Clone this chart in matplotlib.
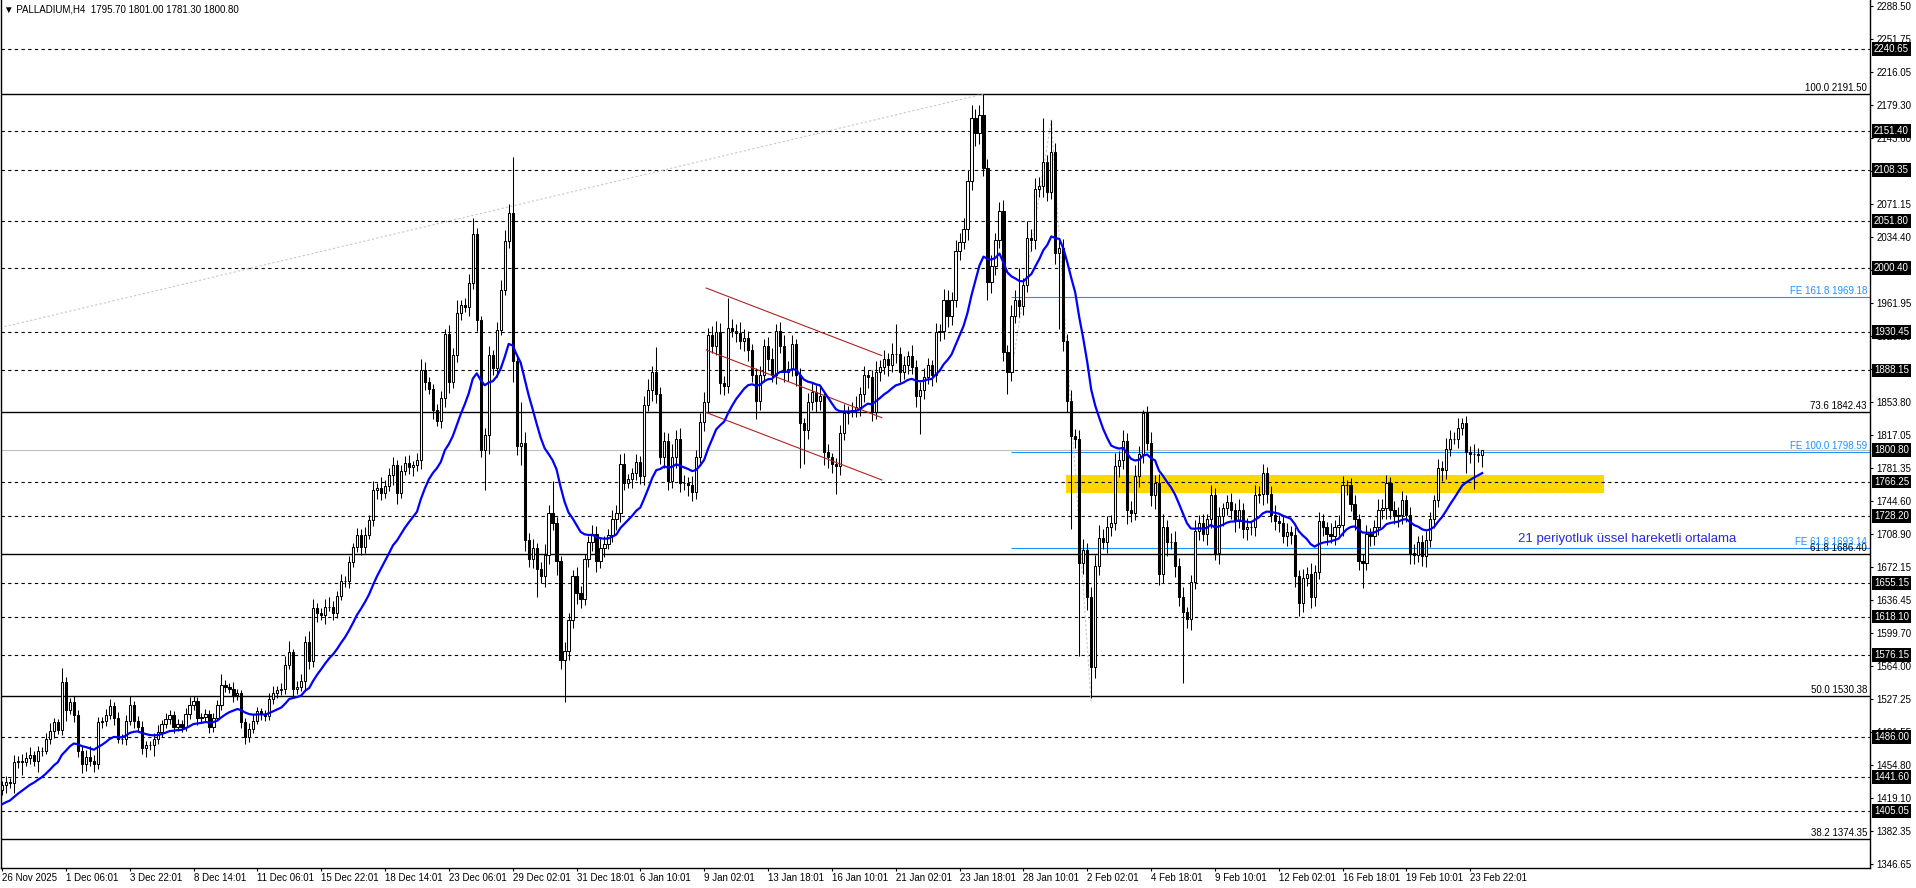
import numpy as np
import matplotlib
matplotlib.use("Agg")
import matplotlib.pyplot as plt

plt.rcParams['font.family'] = ['Liberation Sans', 'DejaVu Sans']

# H4 closes (26 Nov 2025 -> 24 Feb 2026)
closes = [
    1433, 1437, 1435, 1458, 1460, 1459, 1463, 1466, 1460, 1470,
    1471, 1484, 1493, 1502, 1494, 1546, 1516, 1524, 1510, 1470,
    1456, 1464, 1460, 1456, 1502, 1503, 1510, 1520, 1507, 1484,
    1484, 1504, 1521, 1504, 1497, 1474, 1477, 1477, 1484, 1491,
    1500, 1506, 1510, 1497, 1500, 1497, 1511, 1521, 1525, 1507,
    1508, 1511, 1497, 1507, 1521, 1543, 1541, 1539, 1532, 1534,
    1502, 1486, 1495, 1504, 1514, 1511, 1509, 1528, 1534, 1537,
    1539, 1565, 1579, 1539, 1541, 1547, 1590, 1569, 1627, 1622,
    1620, 1629, 1629, 1622, 1641, 1657, 1657, 1678, 1694, 1708,
    1694, 1708, 1724, 1757, 1759, 1754, 1761, 1773, 1784, 1754,
    1778, 1787, 1782, 1784, 1790, 1889, 1875, 1868, 1845, 1833,
    1858, 1928, 1875, 1905, 1951, 1960, 1958, 1984, 2038, 1944,
    1801, 1817, 1905, 1891, 1933, 1977, 2030, 2061, 1898, 1805,
    1809, 1702, 1681, 1693, 1670, 1663, 1686, 1732, 1721, 1679,
    1570, 1580, 1614, 1663, 1644, 1637, 1681, 1700, 1709, 1679,
    1693, 1698, 1708, 1725, 1732, 1786, 1765, 1769, 1776, 1788,
    1772, 1850, 1867, 1887, 1862, 1793, 1811, 1767, 1793, 1813,
    1765, 1765, 1762, 1755, 1793, 1832, 1853, 1927, 1915, 1930,
    1874, 1871, 1935, 1931, 1929, 1920, 1924, 1911, 1883, 1855,
    1883, 1915, 1901, 1883, 1931, 1915, 1887, 1890, 1917, 1883,
    1830, 1823, 1853, 1864, 1855, 1860, 1799, 1793, 1786, 1783,
    1820, 1841, 1843, 1845, 1848, 1862, 1883, 1881, 1843, 1887,
    1892, 1901, 1894, 1906, 1906, 1887, 1894, 1904, 1892, 1860,
    1867, 1881, 1894, 1883, 1930, 1931, 1966, 1948, 1966, 2019,
    2029, 2043, 2096, 2165, 2149, 2168, 2110, 1985, 2003, 2031,
    2063, 1908, 1887, 1948, 1966, 1959, 1982, 2033, 2031, 2087,
    2091, 2117, 2084, 2128, 2017, 2022, 1920, 1855, 1816, 1813,
    1677, 1691, 1640, 1563, 1674, 1704, 1700, 1716, 1721, 1783,
    1790, 1811, 1735, 1732, 1772, 1797, 1841, 1809, 1751, 1765,
    1665, 1716, 1700, 1700, 1674, 1640, 1623, 1615, 1656, 1712,
    1721, 1709, 1725, 1751, 1688, 1728, 1737, 1744, 1735, 1723,
    1735, 1714, 1716, 1716, 1751, 1753, 1776, 1753, 1730, 1723,
    1721, 1707, 1711, 1708, 1663, 1633, 1660, 1665, 1640, 1667,
    1723, 1716, 1709, 1707, 1716, 1719, 1762, 1762, 1742, 1725,
    1679, 1677, 1709, 1707, 1716, 1735, 1737, 1765, 1735, 1728,
    1730, 1746, 1730, 1688, 1686, 1700, 1684, 1702, 1725, 1746,
    1781, 1779, 1802, 1813, 1813, 1825, 1830, 1799, 1797, 1797,
    1795.7, 1800.8,
]
# wick lengths above / below each body
upper_wick = [
    5, 6, 4, 8, 5, 7, 6, 9, 5, 6,  4, 6, 8, 5, 4, 16, 6, 5, 7, 5,
    6, 8, 12, 6, 6, 5, 7, 8, 4, 6,  5, 6, 10, 4, 5, 6, 4, 5, 6, 8,
    5, 6, 5, 4, 6, 5, 7, 9, 6, 5,  4, 6, 5, 5, 6, 12, 6, 4, 7, 5,
    4, 5, 6, 7, 5, 4, 5, 6, 8, 5,  6, 10, 12, 4, 6, 8, 7, 12, 10, 6,
    5, 8, 10, 6, 5, 8, 6, 6, 5, 7,  6, 8, 5, 10, 6, 12, 7, 8, 9, 6,
    6, 7, 8, 5, 8, 12, 8, 6, 5, 6,  8, 6, 10, 8, 14, 6, 8, 10, 17, 6,
    4, 8, 10, 6, 8, 10, 12, 10, 61, 8,  44, 12, 8, 10, 6, 8, 12, 8, 35, 6,
    6, 10, 8, 6, 10, 8, 6, 6, 10, 8,  12, 8, 6, 10, 8, 10, 12, 6, 5, 8,
    6, 10, 12, 6, 27, 8, 10, 8, 15, 10,  12, 8, 6, 10, 8, 10, 12, 8, 10, 12,
    10, 8, 33, 10, 8, 12, 10, 8, 6, 8,  10, 8, 10, 12, 8, 10, 12, 8, 10, 6,
    8, 6, 10, 12, 8, 10, 6, 8, 5, 6,  8, 10, 6, 8, 12, 8, 10, 6, 8, 12,
    8, 10, 6, 12, 33, 8, 10, 6, 12, 8,  8, 10, 8, 6, 10, 8, 12, 10, 8, 12,
    10, 12, 12, 15, 10, 12, 24, 10, 12, 8,  10, 12, 8, 12, 10, 35, 8, 19, 10, 12,
    10, 48, 8, 35, 10, 8, 10, 8, 12, 8,  10, 12, 8, 10, 12, 15, 10, 12, 8, 15,
    10, 12, 8, 10, 12, 8, 4, 8, 12, 8,  10, 15, 8, 10, 12, 8, 10, 6, 8, 12,
    8, 10, 6, 12, 8, 10, 6, 8, 10, 8,  12, 8, 10, 6, 12, 8, 10, 6, 8, 10,
    6, 8, 10, 6, 8, 6, 10, 8, 12, 8,  10, 8, 6, 12, 8, 10, 10, 6, 8, 10,
    6, 8, 10, 6, 8, 12, 10, 8, 6, 10,  8, 10, 6, 8, 10, 6, 8, 10, 8, 6,
    10, 8, 12, 10, 8, 11, 6, 8, 6, 10,  6, 0,
]
lower_wick = [
    6, 8, 5, 10, 6, 15, 5, 7, 6, 12,  5, 4, 6, 8, 5, 6, 12, 5, 8, 6,
    10, 7, 6, 8, 5, 6, 5, 4, 8, 5,  6, 7, 5, 8, 6, 7, 10, 5, 12, 6,
    5, 4, 6, 7, 5, 6, 4, 5, 6, 8,  6, 5, 7, 6, 4, 5, 6, 5, 8, 6,
    6, 8, 6, 5, 4, 6, 5, 4, 6, 5,  5, 6, 5, 8, 6, 5, 10, 8, 6, 10,
    6, 10, 5, 8, 6, 5, 6, 8, 6, 5,  8, 6, 5, 6, 10, 8, 6, 5, 10, 12,
    6, 5, 8, 10, 6, 10, 8, 6, 10, 6,  8, 10, 12, 6, 8, 7, 6, 10, 6, 12,
    8, 44, 20, 8, 10, 6, 6, 8, 23, 10,  21, 12, 8, 10, 30, 8, 12, 10, 8, 15,
    10, 46, 10, 8, 12, 10, 6, 8, 10, 12,  8, 10, 6, 8, 12, 10, 8, 6, 10, 8,
    8, 10, 6, 12, 10, 8, 12, 10, 8, 12,  10, 8, 12, 10, 8, 6, 10, 12, 8, 10,
    12, 10, 8, 6, 10, 8, 10, 12, 8, 20,  10, 8, 12, 8, 10, 8, 12, 10, 8, 12,
    49, 37, 10, 8, 12, 10, 15, 12, 10, 30,  10, 8, 12, 6, 8, 10, 8, 12, 10, 8,
    10, 8, 12, 8, 10, 12, 8, 10, 8, 12,  42, 10, 8, 12, 8, 10, 8, 12, 10, 8,
    10, 8, 12, 10, 15, 12, 8, 20, 12, 10,  8, 10, 25, 10, 8, 12, 10, 8, 12, 10,
    8, 12, 10, 8, 12, 83, 10, 12, 102, 10,  102, 12, 15, 34, 12, 10, 8, 12, 10, 8,
    12, 10, 15, 10, 8, 12, 10, 8, 12, 15,  12, 10, 15, 8, 12, 10, 78, 10, 12, 8,
    10, 8, 12, 10, 8, 12, 10, 8, 10, 12,  8, 10, 12, 8, 10, 8, 12, 10, 8, 10,
    10, 8, 12, 10, 12, 14, 10, 8, 12, 10,  8, 10, 12, 8, 10, 8, 12, 10, 8, 12,
    10, 28, 8, 12, 10, 8, 10, 12, 10, 8,  12, 10, 8, 12, 10, 8, 10, 12, 8, 10,
    8, 12, 10, 8, 6, 10, 8, 23, 10, 39,  8, 14,
]
first_open = 1428
ema_start = 1410
ema_period = 21

date_labels = ["26 Nov 2025", "1 Dec 06:01", "3 Dec 22:01", "8 Dec 14:01", "11 Dec 06:01",
               "15 Dec 22:01", "18 Dec 14:01", "23 Dec 06:01", "29 Dec 02:01", "31 Dec 18:01",
               "6 Jan 10:01", "9 Jan 02:01", "13 Jan 18:01", "16 Jan 10:01", "21 Jan 02:01",
               "23 Jan 18:01", "28 Jan 10:01", "2 Feb 02:01", "4 Feb 18:01", "9 Feb 10:01",
               "12 Feb 02:01", "16 Feb 18:01", "19 Feb 10:01", "23 Feb 22:01"]
bars_per_label = 16

price_ticks = [2288.50, 2251.75, 2216.05, 2179.30, 2143.60, 2106.85, 2071.15, 2034.40,
               1998.70, 1961.95, 1926.25, 1889.50, 1853.80, 1817.05, 1781.35, 1744.60,
               1708.90, 1672.15, 1636.45, 1599.70, 1564.00, 1527.25, 1491.55, 1454.80,
               1419.10, 1382.35, 1346.65]
dashed_levels = [2240.65, 2151.40, 2108.35, 2051.80, 2000.40, 1930.45, 1888.15, 1766.25,
                 1728.20, 1655.15, 1618.10, 1576.15, 1486.00, 1441.60, 1405.05]
bid_price = 1800.80
fib_pct = [100.0, 73.6, 61.8, 50.0, 38.2]
fib_price = [2191.50, 1842.43, 1686.40, 1530.38, 1374.35]
fe_pct = [161.8, 100.0, 61.8]
fe_price = [1969.18, 1798.59, 1693.14]
fe_anchor_bar = [253, 263, 273]
fe_anchor_price = [1887, 2163, 1522.5]
retr_bar = [-0.5, 246]
retr_price = [1935, 2191.5]
channel_bar = [176.5, 220.5]
channel_upper = [1978.6, 1904.5]
channel_mid = [1910.6, 1836.4]
channel_lower = [1842.0, 1768.0]
zone_bar = [266.8, 401.5]
zone_price = [1754, 1773]
ema_note = "21 periyotluk üssel hareketli ortalama"
header = "PALLADIUM,H4  1795.70 1801.00 1781.30 1800.80"

c = np.array(closes, dtype=float)
o = np.r_[first_open, c[:-1]]
hi = np.maximum(o, c) + np.array(upper_wick)
lo = np.minimum(o, c) - np.array(lower_wick)
x = np.arange(len(c))

alpha = 2 / (ema_period + 1)
ema = []
e = ema_start
for v in c:
    e += alpha * (v - e)
    ema.append(e)

W, H = 1916, 888
fig = plt.figure(figsize=(W / 100, H / 100), dpi=100)
ax = fig.add_axes([1 / W, (H - 867.5) / H, 1869 / W, 867.5 / H])
xmax = 468.2
ax.set_xlim(-0.25, xmax)
ax.set_ylim(1342.7, 2294.7)

# background objects
ax.fill_between(zone_bar, zone_price[0], zone_price[1], color="#FFD700", lw=0, zorder=1)
for v in dashed_levels:
    ax.axhline(v, color="black", lw=0.8, ls=(0, (3, 3)), zorder=2)
ax.axhline(bid_price, color="#C0C0C0", lw=0.8, zorder=2)
for v in fib_price:
    ax.axhline(v, color="black", lw=1.0, zorder=2)
for v in fe_price:
    ax.hlines(v, fe_anchor_bar[0], xmax, color="#1E90FF", lw=0.8, zorder=2)
ax.plot(retr_bar, retr_price, color="#C8C8C8", lw=0.8, ls=(0, (2, 2)), zorder=2)
ax.plot(fe_anchor_bar, fe_anchor_price, color="#C8C8C8", lw=0.8, ls=(0, (2, 2)), zorder=2)
for line in (channel_upper, channel_mid, channel_lower):
    ax.plot(channel_bar, line, color="#B22222", lw=0.8, zorder=5)

# candles
up = c >= o
ax.vlines(x, lo, hi, color="black", lw=0.75, zorder=3)
ax.bar(x[up], (c - o)[up], bottom=o[up], width=0.55, color="white",
       edgecolor="black", linewidth=0.75, zorder=4)
ax.bar(x[~up], (o - c)[~up], bottom=c[~up], width=0.55, color="black",
       edgecolor="black", linewidth=0.75, zorder=4)

ax.plot(x, ema, color="#0000FF", lw=1.6, zorder=6)

ax.text(380, 1703, ema_note, color="#2828E0", fontsize=9.5, va="center", ha="left", zorder=7)

# axes styling
ax.spines["top"].set_visible(False)
for side in ("left", "right", "bottom"):
    ax.spines[side].set_linewidth(1.0)
ax.yaxis.tick_right()
ax.set_yticks(price_ticks)
ax.set_yticklabels([f"{v:.2f}" for v in price_ticks])
ax.tick_params(axis="y", direction="out", length=2.2, width=0.8, pad=2.5, labelsize=7)
ax.set_xticks(np.arange(len(date_labels)) * bars_per_label)
ax.set_xticklabels(date_labels, ha="left")
ax.tick_params(axis="x", direction="out", length=2.2, width=0.8, pad=1.5, labelsize=7)

# right-side price boxes
for v in dashed_levels + [bid_price]:
    ax.annotate(f"{v:.2f}", xy=(1, v), xycoords=("axes fraction", "data"),
                xytext=(4, 0), textcoords="offset pixels", va="center", ha="left",
                fontsize=7, color="white", annotation_clip=False, zorder=10,
                bbox=dict(boxstyle="square,pad=0.2", fc="black", ec="none"))

for p, v in zip(fib_pct, fib_price):
    ax.annotate(f"{p:.1f} {v:.2f}", xy=(1, v), xycoords=("axes fraction", "data"),
                xytext=(-3, 1), textcoords="offset pixels", ha="right", va="bottom",
                fontsize=7, color="black", zorder=8)
for p, v in zip(fe_pct, fe_price):
    ax.annotate(f"FE {p:.1f} {v:.2f}", xy=(1, v), xycoords=("axes fraction", "data"),
                xytext=(-3, 1), textcoords="offset pixels", ha="right", va="bottom",
                fontsize=7, color="#1E90FF", zorder=8)

fig.text(4 / W, 1 - 9 / H, "\u25bc " + header, fontsize=7, va="center", ha="left")

fig.savefig("out.png", dpi=100)
